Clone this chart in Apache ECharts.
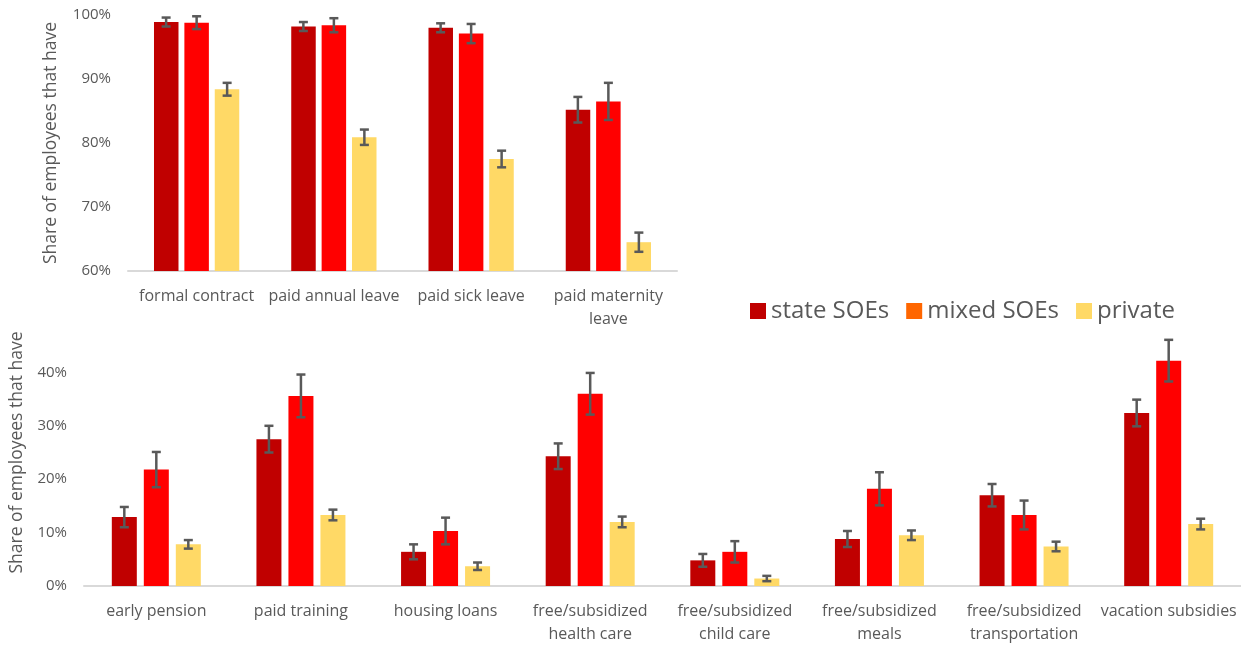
<!DOCTYPE html>
<html>
<head>
<meta charset="utf-8">
<script src="https://cdn.jsdelivr.net/npm/echarts@6/dist/echarts.min.js"></script>
<style>
html, body { margin: 0; padding: 0; background: #fff; }
#chart { width: 1241px; height: 646px; }
</style>
</head>
<body>
<div id="chart"></div>
<script>
// series names
var seriesNames = ['state SOEs', 'mixed SOEs', 'private'];
var colors = ['#C00000', '#FF0000', '#FFD966'];

// upper panel
var topCategories = ['formal contract', 'paid annual leave', 'paid sick leave', 'paid maternity\nleave'];
var topState = [98.9, 98.2, 98.0, 85.2];
var topMixed = [98.8, 98.4, 97.1, 86.5];
var topPrivate = [88.4, 80.9, 77.5, 64.5];
var topStateErr = [0.7, 0.7, 0.7, 2.0];
var topMixedErr = [1.0, 1.1, 1.5, 2.9];
var topPrivateErr = [1.0, 1.2, 1.3, 1.5];

// lower panel
var bottomCategories = ['early pension', 'paid training', 'housing loans', 'free/subsidized\nhealth care',
    'free/subsidized\nchild care', 'free/subsidized\nmeals', 'free/subsidized\ntransportation', 'vacation subsidies'];
var bottomState = [12.9, 27.5, 6.4, 24.3, 4.8, 8.8, 17.0, 32.4];
var bottomMixed = [21.8, 35.6, 10.3, 36.0, 6.4, 18.2, 13.3, 42.2];
var bottomPrivate = [7.8, 13.3, 3.7, 12.0, 1.4, 9.5, 7.4, 11.6];
var bottomStateErr = [1.9, 2.5, 1.4, 2.4, 1.2, 1.5, 2.1, 2.5];
var bottomMixedErr = [3.3, 4.0, 2.5, 3.9, 2.0, 3.1, 2.7, 3.9];
var bottomPrivateErr = [0.8, 1.0, 0.7, 1.0, 0.5, 0.9, 0.9, 1.0];

var font = '"Open Sans"';
var textColor = '#595959';

function withErr(values, errs) {
    return values.map(function (v, i) { return [i, v, errs[i]]; });
}

// draws one error bar, shifted from the category centre to the bar's centre
function errorBar(offset) {
    return function (params, api) {
        var hi = api.coord([api.value(0), api.value(1) + api.value(2)]);
        var lo = api.coord([api.value(0), api.value(1) - api.value(2)]);
        var cx = hi[0] + offset;
        var hw = 4.5;
        var style = { stroke: '#595959', lineWidth: 2.5 };
        return {
            type: 'group',
            children: [
                { type: 'line', shape: { x1: cx, y1: hi[1], x2: cx, y2: lo[1] }, style: style },
                { type: 'line', shape: { x1: cx - hw, y1: hi[1], x2: cx + hw, y2: hi[1] }, style: style },
                { type: 'line', shape: { x1: cx - hw, y1: lo[1], x2: cx + hw, y2: lo[1] }, style: style }
            ]
        };
    };
}

function barSeries(name, idx, axis, data, width, gap) {
    return {
        name: name,
        type: 'bar',
        xAxisIndex: axis,
        yAxisIndex: axis,
        data: data,
        barWidth: width,
        barGap: gap,
        itemStyle: { color: colors[idx] }
    };
}

function errSeries(name, axis, data, offset) {
    return {
        name: name,
        type: 'custom',
        xAxisIndex: axis,
        yAxisIndex: axis,
        renderItem: errorBar(offset),
        encode: { x: 0, y: 1 },
        data: data,
        z: 10
    };
}

function catAxis(grid, cats) {
    return {
        type: 'category',
        gridIndex: grid,
        data: cats,
        axisTick: { show: false },
        axisLine: { lineStyle: { color: '#D9D9D9', width: 2 } },
        axisLabel: { interval: 0, margin: 14, fontFamily: font, fontSize: 16, lineHeight: 23, color: textColor }
    };
}

// hideFrom: labels at or above this value are left blank
function valAxis(grid, min, max, gap, hideFrom) {
    return {
        type: 'value',
        gridIndex: grid,
        min: min,
        max: max,
        interval: 10,
        name: 'Share of employees that have',
        nameLocation: 'middle',
        nameGap: gap,
        nameTextStyle: { fontFamily: font, fontSize: 17.5, color: textColor },
        splitLine: { show: false },
        axisLine: { show: false },
        axisTick: { show: false },
        axisLabel: {
            margin: 17,
            fontFamily: font,
            fontSize: 15,
            color: textColor,
            formatter: function (v) { return v >= hideFrom ? '' : v + '%'; }
        }
    };
}

var chart = echarts.init(document.getElementById('chart'));
chart.setOption({
    animation: false,
    legend: {
        left: 745,
        top: 294,
        itemWidth: 16,
        itemHeight: 16,
        itemGap: 17,
        icon: 'rect',
        textStyle: { fontFamily: font, fontSize: 24, color: textColor },
        data: [
            { name: 'state SOEs' },
            { name: 'mixed SOEs', itemStyle: { color: '#FF6600' } },
            { name: 'private' }
        ]
    },
    grid: [
        { left: 128, top: 15, width: 549, height: 256 },
        { left: 84, top: 319, width: 1157, height: 270 }
    ],
    xAxis: [catAxis(0, topCategories), catAxis(1, bottomCategories)],
    yAxis: [valAxis(0, 60, 100, 68, 200), valAxis(1, 0, 50, 58, 50)],
    series: [
        barSeries(seriesNames[0], 0, 0, topState, 24.5, '24%'),
        barSeries(seriesNames[1], 1, 0, topMixed, 24.5, '24%'),
        barSeries(seriesNames[2], 2, 0, topPrivate, 24.5, '24%'),
        barSeries(seriesNames[0], 0, 1, bottomState, 25, '28%'),
        barSeries(seriesNames[1], 1, 1, bottomMixed, 25, '28%'),
        barSeries(seriesNames[2], 2, 1, bottomPrivate, 25, '28%'),
        errSeries(seriesNames[0], 0, withErr(topState, topStateErr), -30.5),
        errSeries(seriesNames[1], 0, withErr(topMixed, topMixedErr), 0),
        errSeries(seriesNames[2], 0, withErr(topPrivate, topPrivateErr), 30.5),
        errSeries(seriesNames[0], 1, withErr(bottomState, bottomStateErr), -32),
        errSeries(seriesNames[1], 1, withErr(bottomMixed, bottomMixedErr), 0),
        errSeries(seriesNames[2], 1, withErr(bottomPrivate, bottomPrivateErr), 32)
    ]
});
</script>
</body>
</html>
